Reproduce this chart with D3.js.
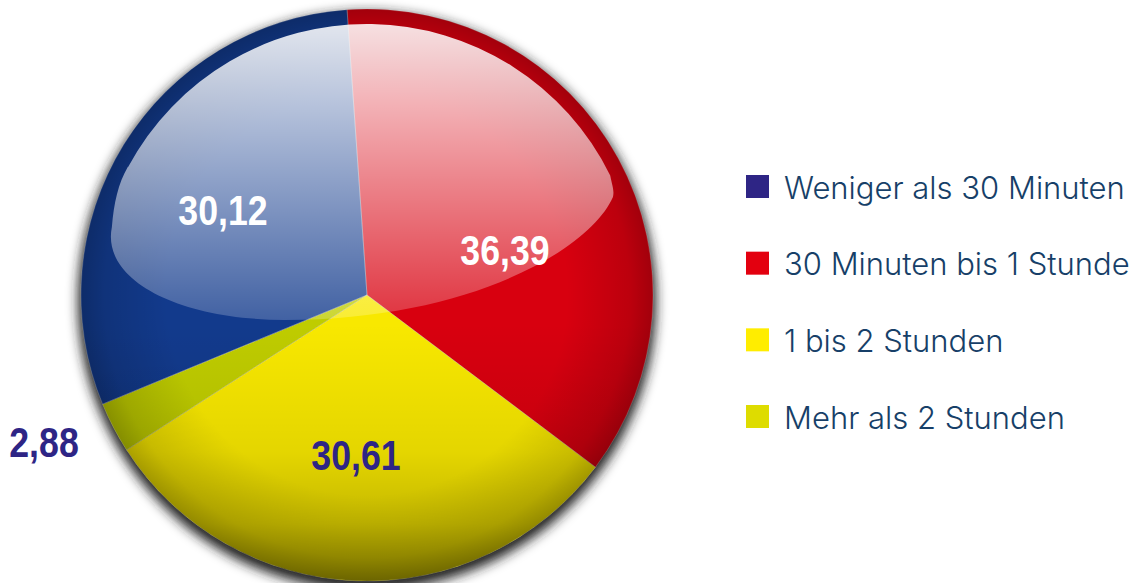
<!DOCTYPE html>
<html>
<head>
<meta charset="utf-8">
<script src="https://cdn.jsdelivr.net/npm/d3@7"></script>
<style>
  html, body { margin: 0; background: #fff; overflow: hidden; }
</style>
</head>
<body>
<script>
// slice order is the clockwise order in the picture, red first
var categories = ["30 Minuten bis 1 Stunde", "1 bis 2 Stunden", "Mehr als 2 Stunden", "Weniger als 30 Minuten"];
var values = [36.39, 30.61, 2.88, 30.12];
var valueLabels = ["36,39", "30,61", "2,88", "30,12"];
var sliceColors = ["#d8000f", "#f8e800", "#bfcc00", "#123a8c"];
var labelColors = ["#fff", "#2e2585", "#2e2585", "#fff"];

var legendItems = ["Weniger als 30 Minuten", "30 Minuten bis 1 Stunde", "1 bis 2 Stunden", "Mehr als 2 Stunden"];
var legendColors = ["#2e2585", "#e3000f", "#ffed00", "#dedc00"];

var width = 1137, height = 583;
var cx = 367, cy = 295, radius = 286;
var startDeg = -4;

var svg = d3.select("body").append("svg")
  .attr("width", width)
  .attr("height", height)
  .style("display", "block");

var defs = svg.append("defs");

defs.append("filter").attr("id", "soft")
  .attr("x", "-10%").attr("y", "-10%").attr("width", "120%").attr("height", "120%")
  .append("feGaussianBlur").attr("stdDeviation", 6);

// darker towards the rim
var rim = defs.append("radialGradient").attr("id", "rim")
  .attr("gradientUnits", "userSpaceOnUse")
  .attr("cx", cx).attr("cy", cy).attr("r", radius);
rim.append("stop").attr("offset", 0.7).attr("stop-color", "#000").attr("stop-opacity", 0);
rim.append("stop").attr("offset", 0.92).attr("stop-color", "#000").attr("stop-opacity", 0.13);
rim.append("stop").attr("offset", 1).attr("stop-color", "#000").attr("stop-opacity", 0.25);

// darker towards the bottom
var lower = defs.append("linearGradient").attr("id", "lower")
  .attr("gradientUnits", "userSpaceOnUse")
  .attr("x1", 0).attr("y1", cy).attr("x2", 0).attr("y2", cy + radius);
lower.append("stop").attr("offset", 0.1).attr("stop-color", "#000").attr("stop-opacity", 0);
lower.append("stop").attr("offset", 0.55).attr("stop-color", "#000").attr("stop-opacity", 0.08);
lower.append("stop").attr("offset", 0.8).attr("stop-color", "#000").attr("stop-opacity", 0.21);
lower.append("stop").attr("offset", 1).attr("stop-color", "#000").attr("stop-opacity", 0.42);

var gloss = defs.append("linearGradient").attr("id", "gloss")
  .attr("gradientUnits", "userSpaceOnUse")
  .attr("x1", 0).attr("y1", cy - radius * 0.95).attr("x2", 0).attr("y2", cy + radius * 0.09);
gloss.append("stop").attr("offset", 0).attr("stop-color", "#fff").attr("stop-opacity", 0.88);
gloss.append("stop").attr("offset", 1).attr("stop-color", "#fff").attr("stop-opacity", 0.2);

// drop shadow
svg.append("circle")
  .attr("cx", cx).attr("cy", cy + 6).attr("r", radius + 3)
  .attr("fill", "#222")
  .attr("filter", "url(#soft)");

var pie = d3.pie().sort(null)
  .startAngle(startDeg * Math.PI / 180)
  .endAngle((startDeg + 360) * Math.PI / 180);
var arc = d3.arc().innerRadius(0).outerRadius(radius);

var disc = svg.append("g").attr("transform", "translate(" + cx + "," + cy + ")");

disc.selectAll("path.slice")
  .data(pie(values))
  .enter().append("path")
  .attr("class", "slice")
  .attr("d", arc)
  .attr("fill", function (d, i) { return sliceColors[i]; });

svg.append("circle").attr("cx", cx).attr("cy", cy).attr("r", radius).attr("fill", "url(#rim)");
svg.append("circle").attr("cx", cx).attr("cy", cy).attr("r", radius).attr("fill", "url(#lower)");

// thin light seams between slices and round the rim
disc.selectAll("path.seam")
  .data(pie(values))
  .enter().append("path")
  .attr("class", "seam")
  .attr("d", arc)
  .attr("fill", "none")
  .attr("stroke", "#fff")
  .attr("stroke-opacity", 0.22)
  .attr("stroke-width", 1);

// glass highlight, in radius units from the centre
function gx(u) { return cx + u * radius; }
function gy(v) { return cy + v * radius; }

var inner = radius * 0.9476;
var g = d3.path();
g.arc(cx, cy, inner, Math.atan2(-128, -239), Math.atan2(-118, 240));
g.bezierCurveTo(gx(0.858), gy(-0.381), gx(0.865), gy(-0.364), gx(0.86), gy(-0.343));
g.bezierCurveTo(gx(0.78), gy(-0.16), gx(0.36), gy(0.087), gx(-0.287), gy(0.087));
g.bezierCurveTo(gx(-0.654), gy(0.087), gx(-0.93), gy(-0.05), gx(-0.892), gy(-0.238));
g.bezierCurveTo(gx(-0.885), gy(-0.32), gx(-0.87), gy(-0.39), gx(-0.836), gy(-0.448));
g.closePath();

svg.append("path")
  .attr("d", g.toString())
  .attr("fill", "url(#gloss)");

// value labels, squeezed because no condensed bold is installed
var labelX = [505, 356, 44, 223];
var labelY = [265, 470, 457, 225];

svg.selectAll("text.value")
  .data(valueLabels)
  .enter().append("text")
  .attr("class", "value")
  .attr("transform", function (d, i) {
    return "translate(" + labelX[i] + "," + labelY[i] + ") scale(0.83,1)";
  })
  .attr("text-anchor", "middle")
  .attr("font-family", "'Liberation Sans', sans-serif")
  .attr("font-weight", 700)
  .attr("font-size", 43)
  .attr("fill", function (d, i) { return labelColors[i]; })
  .text(function (d) { return d; });

// legend
var legendY = d3.scalePoint().domain(legendItems).range([186.5, 416.5]);

var legend = svg.selectAll("g.legend")
  .data(legendItems)
  .enter().append("g")
  .attr("class", "legend")
  .attr("transform", function (d) { return "translate(746," + legendY(d) + ")"; });

legend.append("rect")
  .attr("x", 0).attr("y", -11.5)
  .attr("width", 23).attr("height", 23)
  .attr("fill", function (d, i) { return legendColors[i]; });

legend.append("text")
  .attr("x", 38).attr("y", 12)
  .attr("font-family", "Inter, Roboto, sans-serif")
  .attr("font-weight", 300)
  .attr("font-size", 31)
  .attr("fill", "#173f68")
  .text(function (d) { return d; });
</script>
</body>
</html>
